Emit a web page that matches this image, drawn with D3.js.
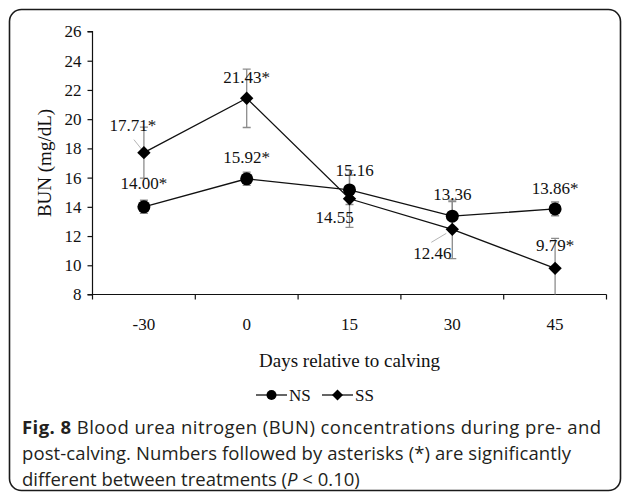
<!DOCTYPE html>
<html>
<head>
<meta charset="utf-8">
<script src="https://cdn.jsdelivr.net/npm/d3@7"></script>
<style>
  html, body { margin: 0; padding: 0; background: #fff; }
  svg { display: block; }
</style>
</head>
<body>
<svg id="chart" width="627" height="496"></svg>
<script>
// Sampling days and tick labels
const days = ["-30", "0", "15", "30", "45"];
const yTicks = [8, 10, 12, 14, 16, 18, 20, 22, 24, 26];

// BUN means (mg/dL) per treatment
const nsValues = [14.00, 15.92, 15.16, 13.36, 13.86];
const ssValues = [17.71, 21.43, 14.55, 12.46, 9.79];

// Standard errors
const nsErrors = [0.45, 0.45, 1.00, 1.00, 0.47];
const ssErrors = [1.75, 2.00, 1.95, 2.00, 2.05];

// Value label text (asterisk = significant difference)
const nsLabels = ["14.00*", "15.92*", "15.16", "13.36", "13.86*"];
const ssLabels = ["17.71*", "21.43*", "14.55", "12.46", "9.79*"];

// Label placement relative to each point (dx, dy in px)
const nsLabelPos = [[0, -18], [0, -16], [5, -14], [0, -16], [0, -15]];
const ssLabelPos = [[-11, -22], [0, -15], [-15, 24], [-20, 30], [0, -17]];

const svg = d3.select("#chart");

// Outer rounded frame
svg.append("rect")
  .attr("x", 9.5).attr("y", 9.5)
  .attr("width", 611).attr("height", 481)
  .attr("rx", 12).attr("ry", 12)
  .attr("fill", "none").attr("stroke", "#1a1a1a").attr("stroke-width", 1.6);

const plot = { left: 92.5, right: 606.5, top: 31.5, bottom: 294.5 };

const x = d3.scaleBand().domain(days).range([plot.left, plot.right]).padding(0);
const y = d3.scaleLinear().domain([8, 26]).range([plot.bottom, plot.top]);
const cx = d => x(d) + x.bandwidth() / 2;

const serif = "'Liberation Serif', 'Times New Roman', serif";

// Y axis
const yAxis = svg.append("g")
  .attr("transform", `translate(${plot.left},0)`)
  .call(d3.axisLeft(y).tickValues(yTicks).tickSize(5).tickPadding(6).tickFormat(d3.format("d")));
yAxis.select(".domain").attr("stroke", "#111").attr("stroke-width", 1.2).attr("d", `M-5,${plot.top}H0V${plot.bottom}`);
yAxis.selectAll(".tick line").attr("stroke", "#111").attr("stroke-width", 1.2);
yAxis.selectAll(".tick text").attr("font-family", serif).attr("font-size", 17).attr("fill", "#111");

// X axis: ticks on category boundaries, labels centred in each band
const boundaries = days.map(d => x(d)).concat([plot.right]);
const xAxis = svg.append("g").attr("transform", `translate(0,${plot.bottom})`);
xAxis.append("line")
  .attr("x1", plot.left - 5).attr("x2", plot.right)
  .attr("stroke", "#111").attr("stroke-width", 1.2);
xAxis.selectAll("line.tk").data(boundaries).join("line")
  .attr("class", "tk")
  .attr("x1", d => d).attr("x2", d => d)
  .attr("y1", 0).attr("y2", 5)
  .attr("stroke", "#111").attr("stroke-width", 1.2);
xAxis.selectAll("text").data(days).join("text")
  .attr("x", d => cx(d)).attr("y", 35)
  .attr("text-anchor", "middle")
  .attr("font-family", serif).attr("font-size", 17).attr("fill", "#111")
  .text(d => d);

// Axis titles
svg.append("text")
  .attr("x", (plot.left + plot.right) / 2).attr("y", 367)
  .attr("text-anchor", "middle")
  .attr("font-family", serif).attr("font-size", 19).attr("fill", "#111")
  .text("Days relative to calving");

svg.append("text")
  .attr("transform", `translate(51,${(plot.top + plot.bottom) / 2}) rotate(-90)`)
  .attr("text-anchor", "middle")
  .attr("font-family", serif).attr("font-size", 19).attr("fill", "#111")
  .text("BUN (mg/dL)");

// Clip marks to the plotting area
svg.append("clipPath").attr("id", "plotClip")
  .append("rect")
  .attr("x", plot.left).attr("y", plot.top - 20)
  .attr("width", plot.right - plot.left).attr("height", plot.bottom - plot.top + 20);

const marks = svg.append("g").attr("clip-path", "url(#plotClip)");

const series = [
  { values: nsValues, errors: nsErrors, labels: nsLabels, pos: nsLabelPos, shape: "circle" },
  { values: ssValues, errors: ssErrors, labels: ssLabels, pos: ssLabelPos, shape: "diamond" }
];

// Error bars
series.forEach(s => {
  const g = marks.append("g").attr("stroke", "#8c8c8c").attr("stroke-width", 1.3);
  days.forEach((d, i) => {
    const hi = y(s.values[i] + s.errors[i]);
    const lo = y(s.values[i] - s.errors[i]);
    g.append("line").attr("x1", cx(d)).attr("x2", cx(d)).attr("y1", hi).attr("y2", lo);
    g.append("line").attr("x1", cx(d) - 4).attr("x2", cx(d) + 4).attr("y1", hi).attr("y2", hi);
    g.append("line").attr("x1", cx(d) - 4).attr("x2", cx(d) + 4).attr("y1", lo).attr("y2", lo);
  });
});

// Leader lines for offset labels
const leaders = [
  { i: 0, s: ssValues, from: [-10, -13], to: [-2, -3] },
  { i: 3, s: ssValues, from: [-21, 13], to: [-6, 4] }
];
leaders.forEach(l => {
  const px = cx(days[l.i]), py = y(l.s[l.i]);
  svg.append("line")
    .attr("x1", px + l.from[0]).attr("y1", py + l.from[1])
    .attr("x2", px + l.to[0]).attr("y2", py + l.to[1])
    .attr("stroke", "#b5b5b5").attr("stroke-width", 1);
});

// Lines
const line = d3.line().x((v, i) => cx(days[i])).y(v => y(v));
series.forEach(s => {
  svg.append("path").datum(s.values)
    .attr("d", line)
    .attr("fill", "none").attr("stroke", "#111").attr("stroke-width", 1.3);
});

// Markers
series.forEach(s => {
  s.values.forEach((v, i) => {
    if (s.shape === "circle") {
      svg.append("circle").attr("cx", cx(days[i])).attr("cy", y(v)).attr("r", 6.5).attr("fill", "#000");
    } else {
      svg.append("path").attr("d", d3.symbol().type(d3.symbolSquare).size(110)())
        .attr("transform", `translate(${cx(days[i])},${y(v)}) rotate(45) scale(0.9,0.9)`)
        .attr("fill", "#000");
    }
  });
});

// Value labels
series.forEach(s => {
  s.values.forEach((v, i) => {
    svg.append("text")
      .attr("x", cx(days[i]) + s.pos[i][0])
      .attr("y", y(v) + s.pos[i][1])
      .attr("text-anchor", "middle")
      .attr("font-family", serif).attr("font-size", 17).attr("fill", "#111")
      .text(s.labels[i]);
  });
});

// Legend
const legend = svg.append("g").attr("transform", "translate(0,395)");
const legendItems = [
  { name: "NS", shape: "circle", x0: 256 },
  { name: "SS", shape: "diamond", x0: 322 }
];
legendItems.forEach(item => {
  legend.append("line").attr("x1", item.x0).attr("x2", item.x0 + 31)
    .attr("y1", 0).attr("y2", 0).attr("stroke", "#111").attr("stroke-width", 1.3);
  if (item.shape === "circle") {
    legend.append("circle").attr("cx", item.x0 + 15.5).attr("cy", 0).attr("r", 5).attr("fill", "#000");
  } else {
    legend.append("path").attr("d", d3.symbol().type(d3.symbolSquare).size(60)())
      .attr("transform", `translate(${item.x0 + 15.5},0) rotate(45)`).attr("fill", "#000");
  }
  legend.append("text").attr("x", item.x0 + 33).attr("y", 6)
    .attr("font-family", serif).attr("font-size", 17).attr("fill", "#111")
    .text(item.name);
});

// Figure caption; the first two lines are tracked out to their set widths
const capFont = "'Open Sans', 'Noto Sans', sans-serif";
const caption = svg.append("g").attr("font-family", capFont).attr("font-size", 18.5).attr("fill", "#231f20");
const l1 = caption.append("text").attr("x", 22).attr("y", 434);
l1.append("tspan").attr("font-weight", "bold").text("Fig. 8");
l1.append("tspan").text(" Blood urea nitrogen (BUN) concentrations during pre- and");
const l2 = caption.append("text").attr("x", 22).attr("y", 460)
  .text("post-calving. Numbers followed by asterisks (*) are significantly");
const l3 = caption.append("text").attr("x", 22).attr("y", 486);
l3.append("tspan").text("different between treatments (");
l3.append("tspan").attr("font-style", "italic").text("P");
l3.append("tspan").text(" < 0.10)");

function trackTo(sel, text, width) {
  const natural = sel.node().getComputedTextLength();
  const n = text.length - 1;
  if (n > 0 && natural < width) sel.attr("letter-spacing", (width - natural) / n);
}
trackTo(l1, "Fig. 8 Blood urea nitrogen (BUN) concentrations during pre- and", 579);
trackTo(l2, "post-calving. Numbers followed by asterisks (*) are significantly", 549);
</script>
</body>
</html>
